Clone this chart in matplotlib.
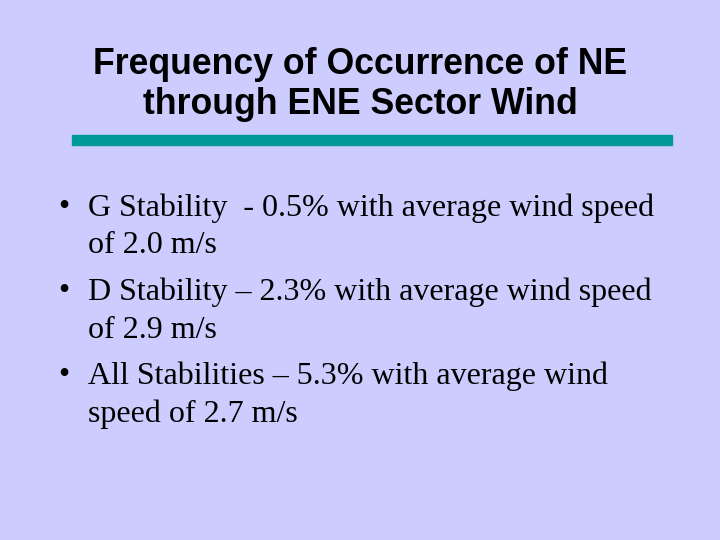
import matplotlib
matplotlib.use("Agg")
import matplotlib.pyplot as plt
from matplotlib.patches import Rectangle

title_lines = ["Frequency of Occurrence of NE", "through ENE Sector Wind"]
bullets = [
    ["G Stability  - 0.5% with average wind speed", "of 2.0 m/s"],
    ["D Stability \u2013 2.3% with average wind speed", "of 2.9 m/s"],
    ["All Stabilities \u2013 5.3% with average wind", "speed of 2.7 m/s"],
]

W, H = 720, 540
fig = plt.figure(figsize=(7.2, 5.4), dpi=100)
fig.patch.set_facecolor("#CCCCFF")

def fx(x): return x / W
def fy(y): return 1 - y / H

for i, t in enumerate(title_lines):
    fig.text(fx(360), fy(65 + i * 40), t, ha="center", va="center",
             family="Liberation Sans", weight="bold", fontsize=25.7, color="black")

fig.patches.append(Rectangle((fx(72), fy(145)), fx(672) - fx(72), 10 / H,
                             transform=fig.transFigure, color="#009999"))

y = 208
for b in bullets:
    fig.text(fx(58), fy(y), "\u2022", ha="left", va="center",
             family="Liberation Serif", fontsize=23)
    for j, line in enumerate(b):
        fig.text(fx(88), fy(y + j * 38), line, ha="left", va="center",
                 family="Liberation Serif", fontsize=23)
    y += 84

fig.savefig("out.png", dpi=100, facecolor=fig.get_facecolor())
